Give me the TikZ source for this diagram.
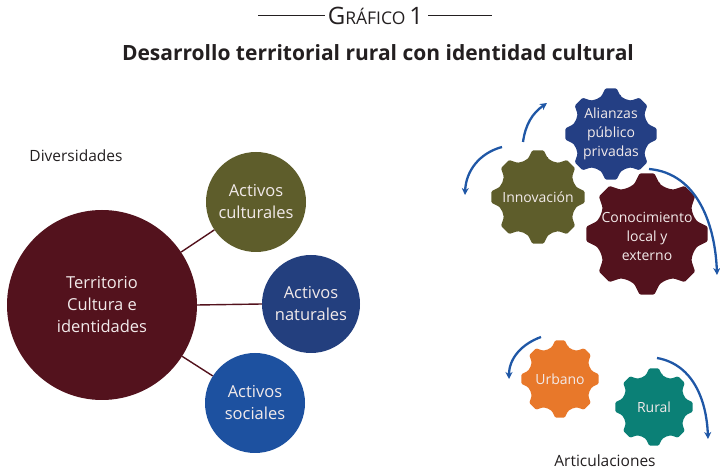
\documentclass[tikz,border=0pt]{standalone}
\usepackage{fontspec}
\setmainfont{Open Sans}
\usetikzlibrary{arrows.meta}
\definecolor{maroon}{HTML}{53121D}
\definecolor{olive}{HTML}{5E5D2B}
\definecolor{navy}{HTML}{233F7E}
\definecolor{midblue}{HTML}{1D51A0}
\definecolor{gearblue}{HTML}{243F84}
\definecolor{orangeg}{HTML}{E8782A}
\definecolor{tealg}{HTML}{0B8076}
\definecolor{arrowblue}{HTML}{1F57A6}
\definecolor{txt}{HTML}{231F20}
\definecolor{ltxt}{HTML}{F2EAEA}
\newcommand\gearfill[4]{%
  \pgfmathsetmacro\gr{0.85*#3}%
  \fill[#4, rounded corners=1.2pt, shift={(#1,#2)}] (76:\gr)
    \foreach \a in {90,135,...,405}{ -- (\a-7:#3) -- (\a+7:#3) -- (\a+14:\gr) to[bend left=15] (\a+31:\gr)} -- cycle;}
\tikzset{
  bubble/.style={circle, inner sep=0pt, text=ltxt, align=center, font=\fontsize{16.5}{22}\selectfont},
  geartext/.style={text=ltxt, align=center, font=\fontsize{14}{19}\selectfont},
  label/.style={text=txt, font=\fontsize{15.5}{18}\selectfont},
  link/.style={draw=maroon, line width=1.4pt},
  flow/.style={draw=arrowblue, line width=2.3pt, -{Stealth[length=7pt,width=7pt]}}
}
\begin{document}
\begin{tikzpicture}[x=1pt,y=1pt]
\useasboundingbox (0,0) rectangle (720,476);
% title
\node[text=txt, font=\fontsize{21}{24}\selectfont\bfseries] (title) at (378,423) {Desarrollo territorial rural con identidad cultural};
\node[text=txt, inner sep=0pt] (graf) at (375.5,460) {{\fontsize{24}{24}\selectfont G}{\fontsize{17.5}{17.5}\selectfont RÁFICO}\hspace{4pt}{\fontsize{24}{24}\selectfont 1}};
\coordinate (l1a) at (258,461); \coordinate (l1b) at (325,461);
\coordinate (l2a) at (428,461); \coordinate (l2b) at (492,461);
\draw[txt, line width=0.8pt] (l1a) -- (l1b);
\draw[txt, line width=0.8pt] (l2a) -- (l2b);
% left part
\node[label] (div) at (76,320) {Diversidades};
\node[bubble, fill=maroon, minimum size=190pt] (big) at (102,171) {Territorio\\Cultura e\\identidades};
\node[bubble, fill=olive, minimum size=100pt] (cult) at (256,274) {Activos\\culturales};
\node[bubble, fill=navy, minimum size=98pt] (nat) at (311,172) {Activos\\naturales};
\node[bubble, fill=midblue, minimum size=100pt] (soc) at (255,73) {Activos\\sociales};
\draw[link] (big) -- (cult);
\draw[link] (big.east) -- (nat.west);
\draw[link] (big) -- (soc);
% gears
\gearfill{538}{279}{47}{olive}
\gearfill{611}{342}{46}{gearblue}
\gearfill{647}{242}{61}{maroon}
\gearfill{560}{97}{39}{orangeg}
\gearfill{654}{69}{39}{tealg}
\node[geartext] (inno) at (538,279) {Innovación};
\node[geartext] (alia) at (611,342) {Alianzas\\público\\privadas};
\node[geartext] (cono) at (647,240) {Conocimiento\\local y\\externo};
\node[geartext] (urb) at (560,97) {Urbano};
\node[geartext] (rur) at (654,69) {Rural};
\node[label] (art) at (605,15) {Articulaciones};
% arrows
\coordinate (a1s) at (523,334); \coordinate (a1e) at (547,373);
\coordinate (a2s) at (502,329); \coordinate (a2e) at (465,281);
\coordinate (a3s) at (649,307); \coordinate (a3e) at (717,201);
\coordinate (a4s) at (541,139); \coordinate (a4e) at (509,97);
\coordinate (a5s) at (657,118); \coordinate (a5e) at (708,37);
\draw[flow] (a1s) to[out=82, in=215] (a1e);
\draw[flow] (a2s) to[out=195, in=88] (a2e);
\draw[flow] (a3s) to[out=-5, in=92] (a3e);
\draw[flow] (a4s) to[out=200, in=90] (a4e);
\draw[flow] (a5s) to[out=-10, in=92] (a5e);
\end{tikzpicture}
\end{document}
